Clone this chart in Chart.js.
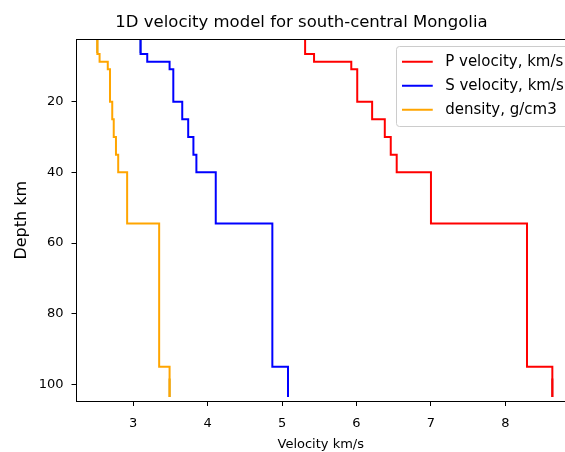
<!DOCTYPE html>
<html><head><meta charset="utf-8">
<script src="https://cdn.jsdelivr.net/npm/chart.js@4.4.0/dist/chart.umd.min.js"></script>
<style>html,body{margin:0;padding:0;background:#fff;overflow:hidden}</style>
</head><body>
<canvas id="c" width="565" height="452" style="display:block;width:565px;height:452px"></canvas>
<script>
// ---- data ----
const layerTopDepths = [0, 6.5, 8.7, 10.8, 20, 25, 30, 35, 40, 54.5, 95];
const modelBottomDepth = 103.6;
const pVelocity = [5.31, 5.43, 5.93, 6.01, 6.21, 6.38, 6.46, 6.54, 7.0, 8.29, 8.63];
const sVelocity = [3.10, 3.19, 3.49, 3.54, 3.66, 3.74, 3.81, 3.85, 4.11, 4.87, 5.08];
const density   = [2.52, 2.55, 2.66, 2.69, 2.72, 2.74, 2.77, 2.80, 2.92, 3.35, 3.49];
const seriesNames = ['P velocity, km/s', 'S velocity, km/s', 'density, g/cm3'];
const topOverlayDepths = [0, 6.2];
const bottomOverlayDepths = [98.3, 103.6];
const xTicks = [3, 4, 5, 6, 7, 8];
const yTicks = [20, 40, 60, 80, 100];

const colors = ['#ff0000', '#0000ff', '#ffa500'];
const overlayColors = ['#c3161c', '#3f6fae', '#c39a10'];

function profile(vals) {
  const pts = layerTopDepths.map((d, i) => ({x: vals[i], y: d}));
  pts.push({x: vals[vals.length - 1], y: modelBottomDepth});
  return pts;
}
function segment(v, depths) { return depths.map(d => ({x: v, y: d})); }

function legendLine(color) {
  const cv = document.createElement('canvas');
  cv.width = 36; cv.height = 4;
  const g = cv.getContext('2d');
  g.strokeStyle = color; g.lineWidth = 2;
  g.beginPath(); g.moveTo(0, 2); g.lineTo(31, 2); g.stroke();
  return cv;
}

const allSeries = [pVelocity, sVelocity, density];
const datasets = allSeries.map((vals, i) => ({
  label: seriesNames[i],
  data: profile(vals),
  showLine: true, stepped: 'after',
  borderColor: colors[i], backgroundColor: colors[i],
  borderWidth: 2, pointRadius: 0, pointHoverRadius: 0,
  pointStyle: legendLine(colors[i]), clip: 0
}));
// darker overlay pieces seen at the ends of the profiles
[1, 2].forEach(i => datasets.push({
  label: 'top-' + i, data: segment(allSeries[i][0], topOverlayDepths),
  showLine: true, borderColor: overlayColors[i], borderWidth: 2, pointRadius: 0, clip: 0
}));
[0, 1, 2].forEach(i => datasets.push({
  label: 'bottom-' + i, data: segment(allSeries[i][allSeries[i].length - 1], bottomOverlayDepths),
  showLine: true, borderColor: overlayColors[i], borderWidth: 2, pointRadius: 0, clip: 0
}));

const font = (size) => ({family: 'DejaVu Sans', size: size, weight: 'normal'});

const placePlugin = {
  id: 'place',
  afterLayout(chart) {
    const lg = chart.legend;
    lg.left = 392.7; lg.right = 565; lg.top = 45.2; lg.bottom = 130;
    const tb = chart.titleBlock;
    tb.left = 38; tb.right = 565;
  },
  beforeDraw(chart) {
    const ctx = chart.ctx;
    ctx.save();
    ctx.fillStyle = '#ffffff';
    ctx.fillRect(0, 0, chart.width, chart.height);
    ctx.beginPath();
    ctx.roundRect(396.5, 46.5, 180, 80, 3);
    ctx.fillStyle = 'rgba(255,255,255,0.8)';
    ctx.fill();
    ctx.strokeStyle = '#cccccc'; ctx.lineWidth = 1;
    ctx.stroke();
    ctx.restore();
  },
  afterDatasetsDraw(chart) {
    const ca = chart.chartArea, ctx = chart.ctx;
    ctx.save();
    ctx.strokeStyle = '#000'; ctx.lineWidth = 1;
    ctx.beginPath();
    ctx.moveTo(ca.left, ca.top); ctx.lineTo(ca.right, ca.top);
    ctx.stroke();
    ctx.restore();
  }
};

new Chart(document.getElementById('c'), {
  type: 'scatter',
  data: {datasets},
  plugins: [placePlugin],
  options: {
    responsive: false, animation: false, devicePixelRatio: 1,
    layout: {padding: 0},
    events: [],
    scales: {
      x: {
        type: 'linear', min: 2.24, max: 8.8,
        afterBuildTicks: s => { s.ticks = xTicks.map(v => ({value: v})); },
        afterFit: s => { s.height = 51; },
        grid: {drawOnChartArea: false, drawTicks: true, tickLength: 5, color: '#000'},
        border: {display: true, color: '#000', width: 1},
        ticks: {font: font(13), color: '#000', padding: 10, maxRotation: 0, autoSkip: false},
        title: {display: true, text: 'Velocity km/s', font: font(13), color: '#000', padding: {top: 0, bottom: 0}}
      },
      y: {
        type: 'linear', reverse: true, min: 2.4, max: 104.7,
        afterBuildTicks: s => { s.ticks = yTicks.map(v => ({value: v})); },
        afterFit: s => { s.width = 76.5; },
        grid: {drawOnChartArea: false, drawTicks: true, tickLength: 5, color: '#000'},
        border: {display: true, color: '#000', width: 1},
        ticks: {font: font(13), color: '#000', padding: 8, autoSkip: false},
        title: {display: true, text: 'Depth km', font: font(16), color: '#000', padding: {top: 12.1, bottom: 0}}
      }
    },
    plugins: {
      title: {display: true, text: '1D velocity model for south-central Mongolia', font: font(16.5), color: '#000', padding: {top: 13.1, bottom: 6.6}},
      legend: {
        position: 'chartArea', align: 'start',
        labels: {usePointStyle: true, pointStyleWidth: 36, padding: 9, font: font(15), color: '#000',
          filter: it => it.datasetIndex < 3}
      },
      tooltip: {enabled: false}
    }
  }
});
</script>
</body></html>
